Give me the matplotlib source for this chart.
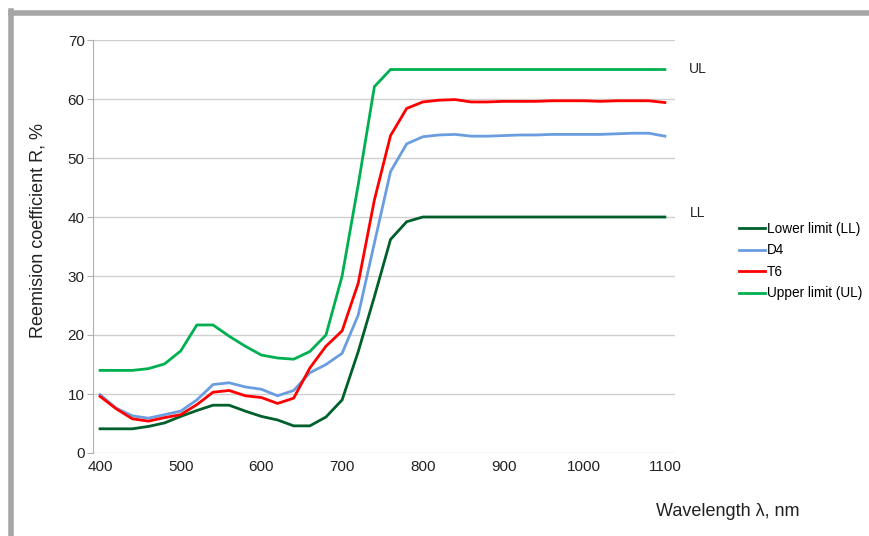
import numpy as np
import matplotlib
matplotlib.use('Agg')
import matplotlib.pyplot as plt
from matplotlib.lines import Line2D

plt.rcParams['font.family'] = ['Liberation Sans', 'DejaVu Sans']

# wavelength grid, nm
wavelength = list(range(400, 1101, 20))

lower_limit = [4.1, 4.1, 4.1, 4.5, 5.1, 6.2, 7.2, 8.1, 8.1, 7.1, 6.2, 5.6, 4.6, 4.6, 6.1, 9.0,
               17.2, 26.5, 36.2, 39.2, 40.0, 40.0, 40.0, 40.0, 40.0, 40.0, 40.0, 40.0, 40.0,
               40.0, 40.0, 40.0, 40.0, 40.0, 40.0, 40.0]
d4 = [9.9, 7.6, 6.3, 5.9, 6.5, 7.1, 9.0, 11.6, 11.9, 11.2, 10.8, 9.7, 10.6, 13.6, 15.0, 16.9,
      23.4, 35.6, 47.7, 52.4, 53.6, 53.9, 54.0, 53.7, 53.7, 53.8, 53.9, 53.9, 54.0, 54.0,
      54.0, 54.0, 54.1, 54.2, 54.2, 53.7]
t6 = [9.6, 7.5, 5.8, 5.4, 6.0, 6.5, 8.2, 10.3, 10.6, 9.7, 9.4, 8.4, 9.3, 14.4, 18.1, 20.7,
      28.8, 42.9, 53.8, 58.4, 59.5, 59.8, 59.9, 59.5, 59.5, 59.6, 59.6, 59.6, 59.7, 59.7,
      59.7, 59.6, 59.7, 59.7, 59.7, 59.4]
upper_limit = [14.0, 14.0, 14.0, 14.3, 15.1, 17.3, 21.7, 21.7, 19.8, 18.1, 16.6, 16.1, 15.9,
               17.2, 20.0, 30.0, 45.5, 62.1, 65.0, 65.0, 65.0, 65.0, 65.0, 65.0, 65.0, 65.0,
               65.0, 65.0, 65.0, 65.0, 65.0, 65.0, 65.0, 65.0, 65.0, 65.0]

series = [("Lower limit (LL)", lower_limit, "#00602b"),
          ("D4", d4, "#6a9de0"),
          ("T6", t6, "#ff0000"),
          ("Upper limit (UL)", upper_limit, "#00b050")]

fig = plt.figure(figsize=(8.7, 5.36), dpi=100)
ax = fig.add_axes([93/870, 1-453/536, (675-93)/870, (453-40)/536])

for name, vals, col in series:
    ax.plot(wavelength, vals, color=col, lw=2.0, label=name, solid_joinstyle='miter')

ax.set_xlim(391.3, 1112.5)
ax.set_ylim(0, 70)
ax.set_xticks(range(400, 1101, 100))
ax.set_yticks(range(0, 71, 10))
ax.grid(axis='y', color='#d0d0d0', lw=1)
ax.set_axisbelow(True)
for s in ['top', 'right', 'bottom']:
    ax.spines[s].set_visible(False)
ax.spines['left'].set_color('#b0b0b0')
ax.tick_params(axis='y', length=4, color='#b0b0b0', labelsize=11, pad=2, labelcolor='#222222')
ax.tick_params(axis='x', length=0, labelsize=11, pad=5, labelcolor='#222222')

fig.text(38/870, 1-231/536, "Reemision coefficient R, %", rotation=90, fontsize=13,
         ha='center', va='center', color='#222222')
fig.text(728/870, 1-512/536, "Wavelength \u03bb, nm", fontsize=13, ha='center', va='center',
         color='#222222')
fig.text(698/870, 1-69/536, "UL", fontsize=10, ha='center', va='center', color='#222222')
fig.text(698/870, 1-213/536, "LL", fontsize=10, ha='center', va='center', color='#222222')

leg = fig.legend(loc='upper left', bbox_to_anchor=(739/870, 1-222/536), frameon=False,
                 fontsize=9.8, handlelength=1.9, handletextpad=0.15, labelspacing=0.55,
                 borderaxespad=0, borderpad=0)

# gray frame on top and left
fig.add_artist(Line2D([11/870, 1], [1-13/536, 1-13/536], color='#a6a6a6', lw=4,
                      transform=fig.transFigure))
fig.add_artist(Line2D([11/870, 11/870], [0, 1-11/536], color='#a6a6a6', lw=4,
                      transform=fig.transFigure))

fig.savefig('out.png', dpi=100)
